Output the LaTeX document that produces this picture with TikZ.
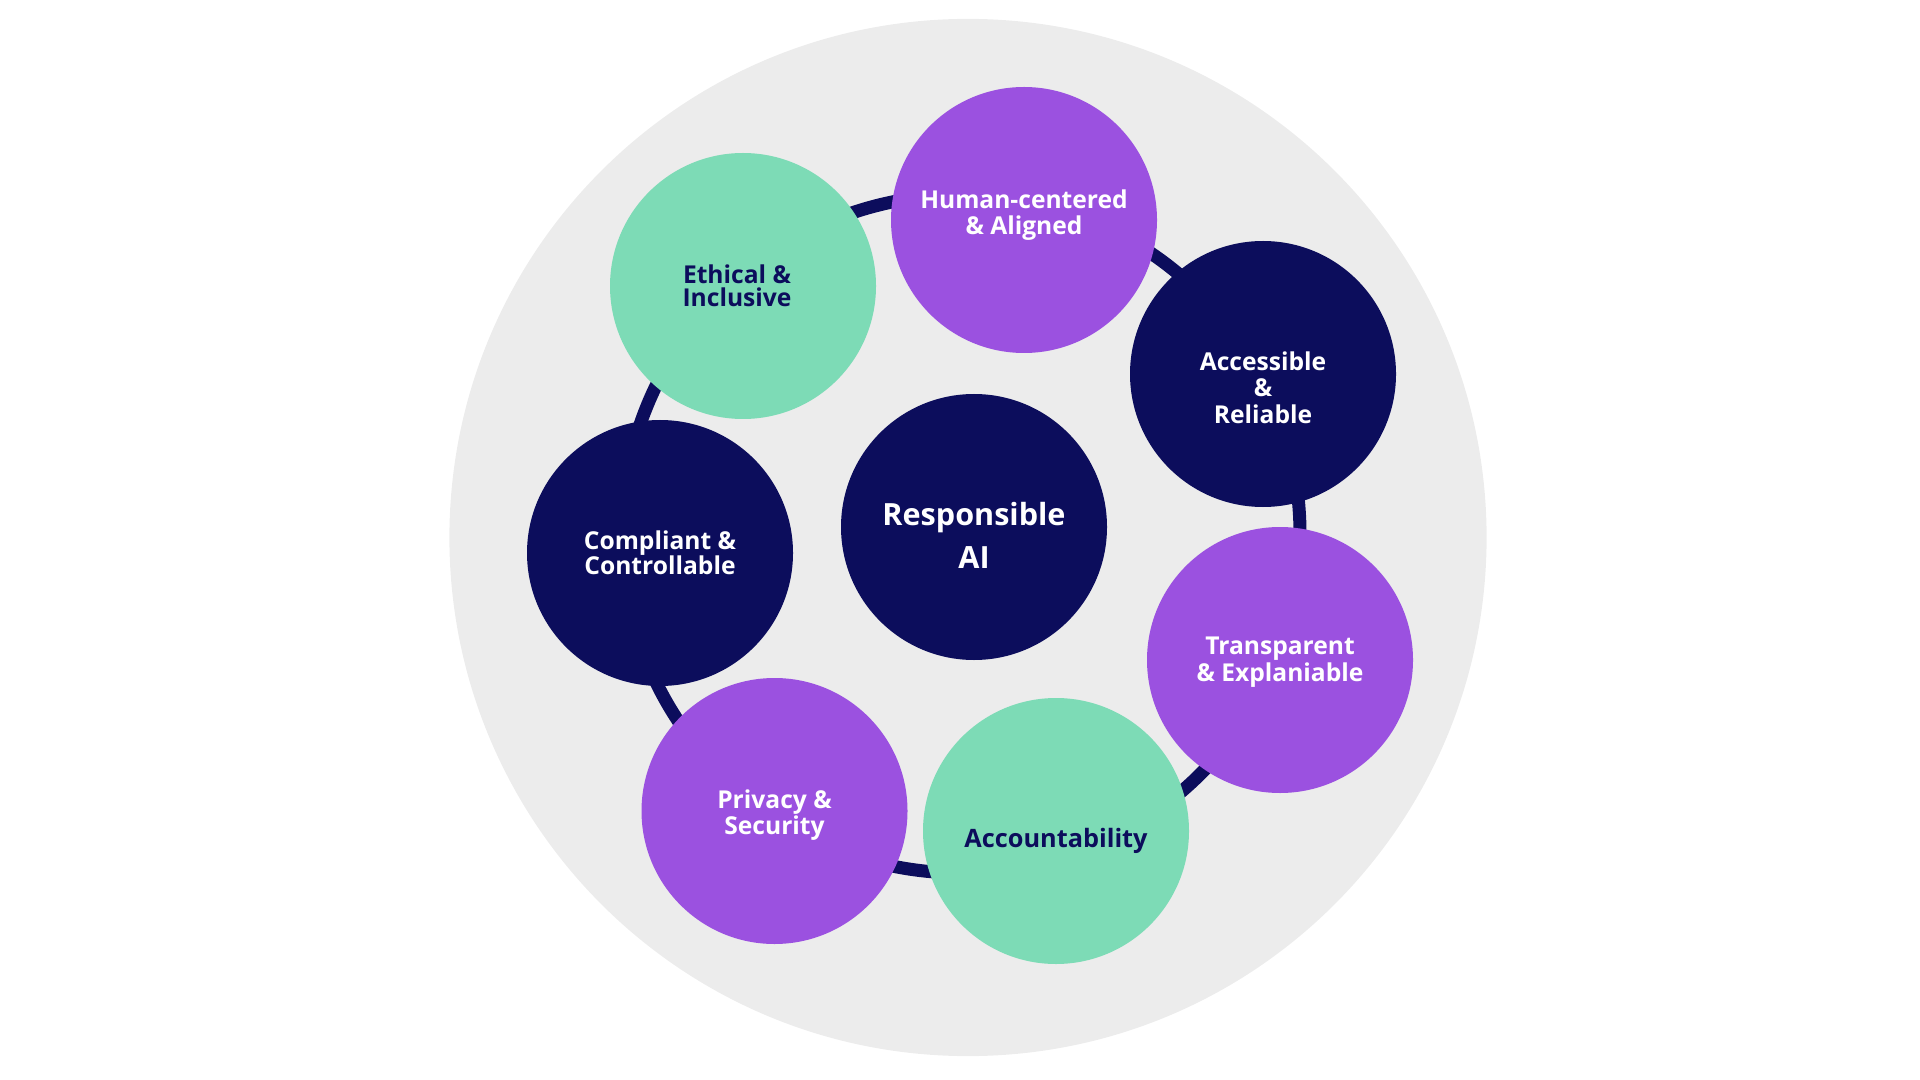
\documentclass[tikz,border=0pt]{standalone}
\usepackage{fontspec}
\setmainfont{Open Sans}
\usetikzlibrary{positioning}
\definecolor{rgray}{HTML}{ECECEC}
\definecolor{rnavy}{HTML}{0C0D5C}
\definecolor{rpurple}{HTML}{9B51E0}
\definecolor{rgreen}{HTML}{7DDBB6}

\begin{document}
\begin{tikzpicture}[bubble/.style={circle, minimum size=2.66cm, inner sep=0pt}, darknode/.style={bubble, fill=rnavy}, purplenode/.style={bubble, fill=rpurple}, greennode/.style={bubble, fill=rgreen}, lighttext/.style={align=center, inner sep=0pt, text=white, font=\fontsize{7}{7.6}\selectfont\bfseries}, darktext/.style={lighttext, text=rnavy}]

    \useasboundingbox (0,0) rectangle (19.2,-10.8);

    %Background
    \fill[rgray] (9.68,-5.375) circle (5.186);
    \coordinate (ring) at (9.61,-5.34);
    \draw[rnavy, line width=0.13cm] (ring) circle (3.39);

    %Nodes
    \node[darknode](core) at (9.74,-5.27){};
    \node[purplenode](human) at (10.24,-2.20){};
    \node[darknode](access) at (12.63,-3.74){};
    \node[purplenode](transp) at (12.80,-6.60){};
    \node[greennode](account) at (10.56,-8.31){};
    \node[purplenode](privacy) at (7.745,-8.11){};
    \node[darknode](compliant) at (6.60,-5.53){};
    \node[greennode](ethical) at (7.43,-2.86){};

    %Labels
    \node[lighttext, font=\fontsize{8.7}{12.23}\selectfont\bfseries](coretext) at ([yshift=-0.085cm]core.center){Responsible\\AI};
    \node[lighttext, font=\fontsize{7}{7.5}\selectfont\bfseries](humantext) at ([yshift=0.05cm]human.center){Human-centered\\\& Aligned};
    \node[lighttext](accesstext) at ([yshift=-0.135cm]access.center){Accessible\\\&\\Reliable};
    \node[lighttext](transptext) at ([yshift=-0.02cm]transp.center){Transparent\\\& Explaniable};
    \node[darktext, font=\fontsize{7.2}{8}\selectfont\bfseries](accounttext) at ([yshift=-0.10cm]account.center){Accountability};
    \node[lighttext](privacytext) at ([yshift=-0.04cm]privacy.center){Privacy \&\\Security};
    \node[lighttext, font=\fontsize{7}{7.1}\selectfont\bfseries](complianttext) at (compliant.center){Compliant \&\\Controllable};
    \node[darktext, font=\fontsize{7}{6.7}\selectfont\bfseries](ethicaltext) at ([xshift=-0.06cm]ethical.center){Ethical \&\\Inclusive};

\end{tikzpicture}
\end{document}
